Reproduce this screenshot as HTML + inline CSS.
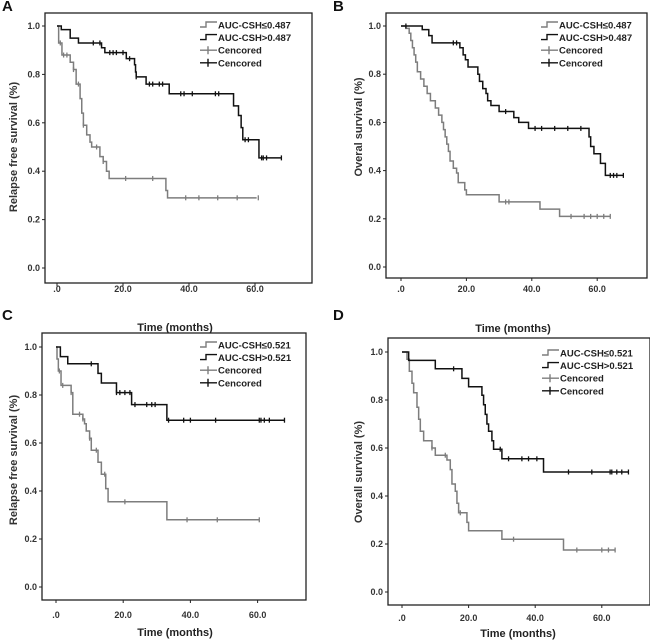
<!DOCTYPE html>
<html><head><meta charset="utf-8"><style>
html,body{margin:0;padding:0;background:#fff;width:650px;height:641px;overflow:hidden}
svg{display:block;font-family:"Liberation Sans",Arial,sans-serif;font-weight:bold}
</style></head><body>
<svg id="fig" width="650" height="641" viewBox="0 0 650 641"></svg>
<script>
// ---- data (time in months, survival proportion) ----
const xTickVals=[0,20,40,60];
const xTickLabels=[".0","20.0","40.0","60.0"];
const yTickVals=[0,0.2,0.4,0.6,0.8,1.0];
const yTickLabels=["0.0","0.2","0.4","0.6","0.8","1.0"];

const aGrayT=[0,0.5,1.5,4,5,5.8,7,7.5,8,9,10,10.5,13,14,15,15.8,33,33.5,60.5];
const aGrayS=[1,0.93,0.88,0.85,0.82,0.76,0.70,0.64,0.59,0.55,0.52,0.50,0.46,0.44,0.40,0.37,0.32,0.29,0.29];
const aGrayC=[1,2,3,5,6.5,8,12,14,20.8,29,39,43,48.7,54.6,61];
const aBlackT=[0,1.3,4,6.5,13.5,14.5,21,23.5,23.8,24,27,34,53.5,55,55.8,56.3,61.2,68];
const aBlackS=[1,0.985,0.95,0.93,0.91,0.89,0.865,0.84,0.81,0.79,0.76,0.72,0.67,0.63,0.58,0.53,0.455,0.455];
const aBlackC=[11,13,16,17,18,20,22,24,28,29,31,32,37.5,38.5,41,48,49,57,58,62,62.5,63.5,68];

const bGrayT=[0,1.5,2.5,3,3.5,4,4.5,5,6,7,8,9,10.5,11.5,12.5,13,13.5,14,14.5,15,16,17,17.5,19.5,20,30,42.5,48.5,64];
const bGrayS=[1,0.99,0.97,0.94,0.91,0.88,0.85,0.81,0.78,0.75,0.72,0.69,0.66,0.63,0.60,0.57,0.54,0.51,0.48,0.44,0.41,0.39,0.35,0.32,0.30,0.27,0.24,0.21,0.21];
const bGrayC=[32,33,52,56,58,60,62,64];
const bBlackT=[0,6.5,8.5,9.5,18,19,19.7,20.5,23.5,24,25,26,26.5,27.5,30,34.5,36,39,57.5,58,59,61,62.5,68];
const bBlackS=[1,0.985,0.96,0.93,0.91,0.88,0.86,0.83,0.80,0.77,0.74,0.72,0.69,0.67,0.645,0.62,0.60,0.575,0.54,0.50,0.47,0.43,0.38,0.38];
const bBlackC=[1.5,16,17,32,41,43,47,51,55,64,65,66,68];

const cGrayT=[0,0.3,0.7,1.5,4.5,5,8,8.5,9,10,10.5,12.5,13.5,14.8,15.5,33,60.5];
const cGrayS=[1,0.95,0.90,0.84,0.81,0.72,0.70,0.68,0.65,0.62,0.57,0.52,0.47,0.41,0.355,0.28,0.28];
const cGrayC=[1,2,4.5,7,8,10,12,14.5,20.5,39,48,60.5];
const cBlackT=[0,1.3,3.5,12.5,13.5,18,22.5,33,68];
const cBlackS=[1,0.96,0.93,0.89,0.85,0.81,0.76,0.695,0.695];
const cBlackC=[10.5,18,19,20.5,22,23.5,27,28.5,29.5,33.5,38,40,47.5,60.5,61,62,63.5,68];

const dGrayT=[0,1.5,2.2,3,3.5,4.5,5,5.5,6.5,9,10,13.5,14.5,15,16,16.5,17,19.5,20,30,48.5,64];
const dGrayS=[1,0.97,0.92,0.87,0.83,0.77,0.72,0.67,0.63,0.60,0.57,0.55,0.51,0.45,0.42,0.37,0.33,0.29,0.255,0.22,0.175,0.175];
const dGrayC=[9,13,17.5,33.5,52.5,60,62,64];
const dBlackT=[0,2,10,18,20,24,24.5,25,25.5,26,27,27.5,30,42.5,68];
const dBlackS=[1,0.965,0.93,0.89,0.855,0.82,0.78,0.74,0.70,0.67,0.63,0.595,0.555,0.50,0.50];
const dBlackC=[15.5,29.5,32,36,38,40.5,50,57,62.5,63,64.5,66,68];

const panels=[
 {id:"a",letter:"A",lx:2,ly:11,frame:[45,13,312,283],x0:57,ppm:3.3,y0:268,y1:26,ytitle:"Relapse free survival (%)",ytx:13,yty:147,xtl:292,ttop:null,tbot:null,
  leg:[200,25],legs:["AUC-CSH\u22640.487","AUC-CSH>0.487"],gT:aGrayT,gS:aGrayS,gC:aGrayC,bT:aBlackT,bS:aBlackS,bC:aBlackC},
 {id:"b",letter:"B",lx:333,ly:11,frame:[386,13,647,278],x0:401,ppm:3.27,y0:267,y1:26,ytitle:"Overal survival (%)",ytx:358,yty:127,xtl:292,ttop:null,tbot:null,
  leg:[541,25],legs:["AUC-CSH\u22640.487","AUC-CSH>0.487"],gT:bGrayT,gS:bGrayS,gC:bGrayC,bT:bBlackT,bS:bBlackS,bC:bBlackC},
 {id:"c",letter:"C",lx:2,ly:320,frame:[42,333,306,600],x0:56,ppm:3.36,y0:587,y1:347,ytitle:"Relapse free survival (%)",ytx:13,yty:460,xtl:618,ttop:[175,331],tbot:[175,636],
  leg:[200,345],legs:["AUC-CSH\u22640.521","AUC-CSH>0.521"],gT:cGrayT,gS:cGrayS,gC:cGrayC,bT:cBlackT,bS:cBlackS,bC:cBlackC},
 {id:"d",letter:"D",lx:333,ly:320,frame:[388,338,650,605],x0:402,ppm:3.33,y0:592,y1:352,ytitle:"Overall survival (%)",ytx:358,yty:472,xtl:621,ttop:[513,332],tbot:[518,637],
  leg:[542,353],legs:["AUC-CSH\u22640.521","AUC-CSH>0.521"],gT:dGrayT,gS:dGrayS,gC:dGrayC,bT:dBlackT,bS:dBlackS,bC:dBlackC}
];
const NS="http://www.w3.org/2000/svg";
const svg=document.getElementById("fig");
function mk(tag,attrs,parent,text){const e=document.createElementNS(NS,tag);for(const k in attrs)e.setAttribute(k,attrs[k]);if(text!=null)e.textContent=text;(parent||svg).appendChild(e);return e;}
const GRAY="#7d7d7d",BLACK="#111";
panels.forEach(p=>{
  const g=mk("g",{});
  
  
  const X=t=>p.x0+t*p.ppm, Y=s=>p.y0+(p.y1-p.y0)*s;
  const L=mk("text",{x:p.lx,y:p.ly,"font-size":"15",fill:"#111"},g,p.letter);
  
  
  const [fx1,fy1,fx2,fy2]=p.frame;
  const fr=mk("rect",{x:fx1,y:fy1,width:fx2-fx1,height:fy2-fy1,fill:"none",stroke:"#222","stroke-width":"1.3"},g);
  
  
  yTickVals.forEach((v,i)=>{
    const y=Y(v);
    const tk=mk("line",{x1:fx1-3,x2:fx1,y1:y,y2:y,stroke:"#222","stroke-width":"1"},g);
    
    
    const t=mk("text",{x:fx1-5,y:y+3,"font-size":"9","text-anchor":"end",fill:"#333"},g,yTickLabels[i]);
    
    
  });
  xTickVals.forEach((v,i)=>{
    const x=X(v);
    const tk=mk("line",{x1:x,x2:x,y1:fy2,y2:fy2+3,stroke:"#222","stroke-width":"1"},g);
    
    
    const t=mk("text",{x:x,y:p.xtl,"font-size":"9","text-anchor":"middle",fill:"#333"},g,xTickLabels[i]);
    
    
  });
  const yt=mk("text",{x:p.ytx,y:p.yty,"font-size":"11","text-anchor":"middle",fill:"#333",transform:`rotate(-90 ${p.ytx} ${p.yty})`,dy:"4"},g,p.ytitle);
  
  
  [p.ttop,p.tbot].forEach(pos=>{if(!pos)return;
    const xt=mk("text",{x:pos[0],y:pos[1],"font-size":"11","text-anchor":"middle",fill:"#222"},g,"Time (months)");
    
    
  });
  function series(T,S,C,col,name){
    let d=`M${X(T[0])},${Y(S[0])}`;
    for(let i=1;i<T.length;i++){d+=`H${X(T[i])}V${Y(S[i])}`;}
    const pth=mk("path",{d:d,fill:"none",stroke:col,"stroke-width":"1.5"},g);
    
    
    C.forEach(c=>{
      let s=S[0];for(let i=0;i<T.length;i++){if(T[i]<=c)s=S[i];}
      const m=mk("line",{x1:X(c),x2:X(c),y1:Y(s)-2.5,y2:Y(s)+2.5,stroke:col,"stroke-width":"1.3"},g);
      
      
    });
  }
  series(p.gT,p.gS,p.gC,GRAY,"low-group");
  series(p.bT,p.bS,p.bC,BLACK,"high-group");
  const [lx,ly]=p.leg;const lg=mk("g",{},g);
  
  
  const items=[[p.legs[0],GRAY,0],[p.legs[1],BLACK,0],["Cencored",GRAY,1],["Cencored",BLACK,1]];
  items.forEach((it,i)=>{
    const y=ly+i*12.6;
    if(it[2]==0){mk("path",{d:`M${lx},${y+2}H${lx+6}V${y-3}H${lx+17}`,fill:"none",stroke:it[1],"stroke-width":"1.4"},lg);}
    else{mk("path",{d:`M${lx},${y}H${lx+17}M${lx+8},${y-4}V${y+4}`,fill:"none",stroke:it[1],"stroke-width":"1.4"},lg);}
    const t=mk("text",{x:lx+18,y:y+3.5,"font-size":"9.5",fill:"#222"},lg,it[0]);
    
    
  });
});
</script>
</body></html>
